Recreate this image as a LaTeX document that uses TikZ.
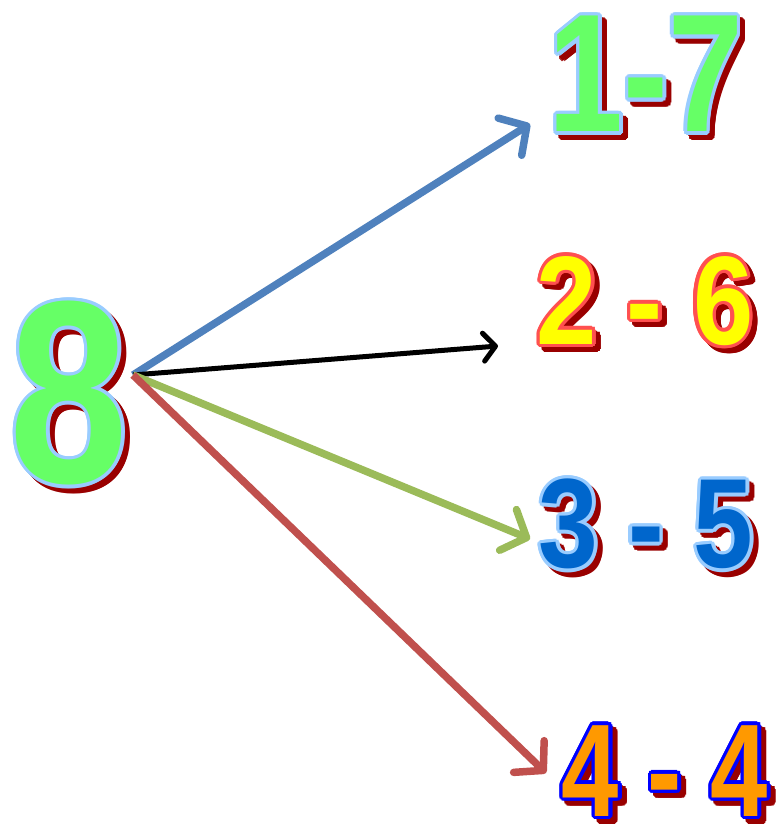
\documentclass[tikz,border=0pt]{standalone}
\usepackage{fontspec}
\setmainfont{Liberation Sans}
\usetikzlibrary{arrows.meta,calc}
\definecolor{Shadow}{HTML}{990000}
\definecolor{Mint}{HTML}{66FF66}
\definecolor{Sky}{HTML}{99CCFF}
\definecolor{Lemon}{HTML}{FFFF00}
\definecolor{Coral}{HTML}{FF5050}
\definecolor{Ocean}{HTML}{0066CC}
\definecolor{Amber}{HTML}{FF9900}
\definecolor{Royal}{HTML}{0000FF}
\definecolor{RayBlue}{HTML}{4F81BD}
\definecolor{RayGreen}{HTML}{9BBB59}
\definecolor{RayRed}{HTML}{C0504D}

\begin{document}
\begin{tikzpicture}[x=1pt,y=-1pt,
    numtext/.style={inner sep=0pt,font=\bfseries\fontsize{#1}{#1}\selectfont},
    ray/.style={line width=7.5pt,-{Straight Barb[length=20pt,width=44pt,round]}}]
  \useasboundingbox (0,0) rectangle (778,832);
  % the numbers: shadow, outline, then fill
  \foreach \name/\x/\y/\sz/\sx/\txt/\fil/\lin in {eight/69/393/260/.82/8/Mint/Sky,
      pairA/646/74/168/.80/1-7/Mint/Sky,pairB/645/301/126/.86/2 - 6/Lemon/Coral,
      pairC/646/524/127/.845/3 - 5/Ocean/Sky,pairD/665/771/132/.78/4 - 4/Amber/Royal}{
    \foreach \a in {0,22.5,...,337.5}
      \node[numtext=\sz,text=Shadow] at ($(\x,\y)+(5,5)+(\a:3.5pt)$) {\scalebox{\sx}[1]{\txt}};
    \foreach \a in {0,22.5,...,337.5}
      \node[numtext=\sz,text=\lin] at ($(\x,\y)+(\a:3.5pt)$) {\scalebox{\sx}[1]{\txt}};
    \node[numtext=\sz,text=\fil] (\name) at (\x,\y) {\scalebox{\sx}[1]{\txt}};
  }
  % arrows
  \coordinate (src) at (133,375);
  \coordinate (tipA) at (530,124);
  \coordinate (tipB) at (498,346);
  \coordinate (tipC) at (530,539);
  \coordinate (tipD) at (546,773);
  \draw[ray,RayBlue] (src) -- (tipA);
  \draw[line width=5pt,-{Straight Barb[length=12pt,width=28pt,round]}] (src) -- (tipB);
  \draw[ray,RayGreen] (src) -- (tipC);
  \draw[ray,RayRed] (src) -- (tipD);
\end{tikzpicture}
\end{document}
